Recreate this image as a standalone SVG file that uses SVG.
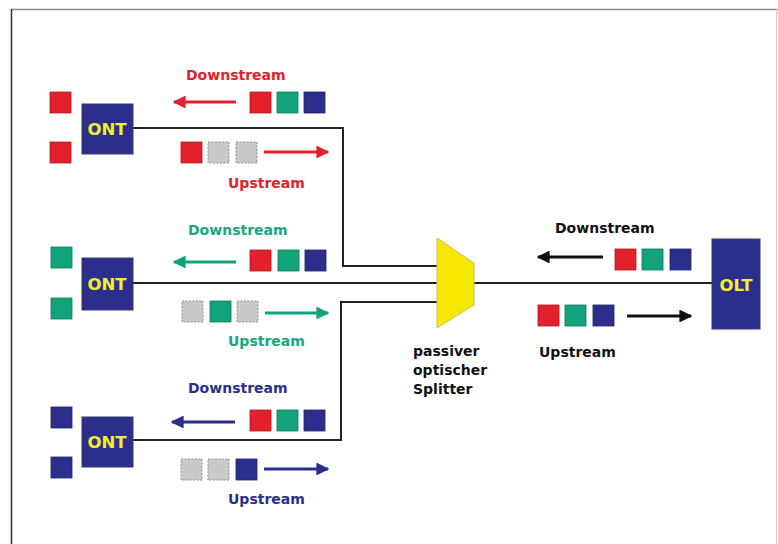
<svg xmlns="http://www.w3.org/2000/svg" width="778" height="544" viewBox="0 0 778 544">
<defs>
<style>
.t{font-family:"DejaVu Sans",Verdana,sans-serif;font-weight:bold;font-size:14px}
.lbl{font-family:"DejaVu Sans",Verdana,sans-serif;font-weight:bold;font-size:16.5px;fill:#f2ee2a;text-anchor:middle}
.box{fill:#2b2f8c;stroke:#3a3a66;stroke-width:1}
.r{fill:#e3212b;stroke:#b01a22;stroke-width:0.8}
.g{fill:#13a37c;stroke:#0e7c5e;stroke-width:0.8}
.b{fill:#2b2f8c;stroke:#1e2266;stroke-width:0.8}
.x{fill:#c9c9c9;stroke:#8f8f8f;stroke-width:1;stroke-dasharray:2 1.5}
.ln{fill:none;stroke:#222;stroke-width:2}
.ar{stroke-width:3;fill:none}
</style>
<marker id="hr" viewBox="0 0 10 10" refX="9" refY="5" markerWidth="4.3" markerHeight="4.3" orient="auto"><path d="M0,0L10,5L0,10z" fill="#e3212b"/></marker>
<marker id="hg" viewBox="0 0 10 10" refX="9" refY="5" markerWidth="4.3" markerHeight="4.3" orient="auto"><path d="M0,0L10,5L0,10z" fill="#13a37c"/></marker>
<marker id="hb" viewBox="0 0 10 10" refX="9" refY="5" markerWidth="4.3" markerHeight="4.3" orient="auto"><path d="M0,0L10,5L0,10z" fill="#2b2f8c"/></marker>
<marker id="hk" viewBox="0 0 10 10" refX="9" refY="5" markerWidth="4.3" markerHeight="4.3" orient="auto"><path d="M0,0L10,5L0,10z" fill="#111"/></marker>
</defs>
<rect x="0" y="0" width="778" height="544" fill="#fff"/>
<line x1="11" y1="9.5" x2="778" y2="9.5" stroke="#888" stroke-width="1.5"/>
<line x1="11.5" y1="9" x2="11.5" y2="544" stroke="#333" stroke-width="1.5"/>
<line x1="776.5" y1="9" x2="776.5" y2="544" stroke="#ccc" stroke-width="1"/>

<g id="connectors">
<path class="ln" d="M133,128H343V266H438"/>
<path class="ln" d="M133,283H438"/>
<path class="ln" d="M133,440H341V302H438"/>
<path class="ln" d="M473,283H713"/>
</g>

<g id="splitter">
<polygon points="437,238 474,263 474,305 437,328" fill="#f6e800" stroke="#c9c060" stroke-width="1"/>
<text class="t" x="413" y="356" fill="#111">passiver</text>
<text class="t" x="413" y="375" fill="#111">optischer</text>
<text class="t" x="413" y="394" fill="#111">Splitter</text>
</g>

<g id="olt">
<rect class="box" x="712" y="239" width="48" height="90"/>
<text class="lbl" x="736" y="291">OLT</text>
</g>

<g id="olt-traffic">
<text class="t" x="555" y="233" fill="#111">Downstream</text>
<line class="ar" x1="603" y1="257" x2="538" y2="257" stroke="#111" marker-end="url(#hk)"/>
<rect class="r" x="615" y="249" width="21" height="21"/>
<rect class="g" x="642" y="249" width="21" height="21"/>
<rect class="b" x="670" y="249" width="21" height="21"/>
<rect class="r" x="538" y="305" width="21" height="21"/>
<rect class="g" x="565" y="305" width="21" height="21"/>
<rect class="b" x="593" y="305" width="21" height="21"/>
<line class="ar" x1="627" y1="316" x2="691" y2="316" stroke="#111" marker-end="url(#hk)"/>
<text class="t" x="539" y="357" fill="#111">Upstream</text>
</g>

<g id="ont1">
<rect class="r" x="50" y="92" width="21" height="21"/>
<rect class="r" x="50" y="142" width="21" height="21"/>
<rect class="box" x="82" y="104" width="51" height="50"/>
<text class="lbl" x="107" y="135">ONT</text>
<text class="t" x="186" y="80" fill="#e3212b">Downstream</text>
<line class="ar" x1="236" y1="102" x2="174" y2="102" stroke="#e3212b" marker-end="url(#hr)"/>
<rect class="r" x="250" y="92" width="21" height="21"/>
<rect class="g" x="277" y="92" width="21" height="21"/>
<rect class="b" x="304" y="92" width="21" height="21"/>
<rect class="r" x="181" y="142" width="21" height="21"/>
<rect class="x" x="208" y="142" width="21" height="21"/>
<rect class="x" x="236" y="142" width="21" height="21"/>
<line class="ar" x1="264" y1="152" x2="328" y2="152" stroke="#e3212b" marker-end="url(#hr)"/>
<text class="t" x="228" y="188" fill="#e3212b">Upstream</text>
</g>

<g id="ont2">
<rect class="g" x="51" y="247" width="21" height="21"/>
<rect class="g" x="51" y="298" width="21" height="21"/>
<rect class="box" x="82" y="258" width="51" height="52"/>
<text class="lbl" x="107" y="290">ONT</text>
<text class="t" x="188" y="235" fill="#1aa682">Downstream</text>
<line class="ar" x1="236" y1="262" x2="174" y2="262" stroke="#13a37c" marker-end="url(#hg)"/>
<rect class="r" x="250" y="250" width="21" height="21"/>
<rect class="g" x="278" y="250" width="21" height="21"/>
<rect class="b" x="305" y="250" width="21" height="21"/>
<rect class="x" x="182" y="301" width="21" height="21"/>
<rect class="g" x="210" y="301" width="21" height="21"/>
<rect class="x" x="237" y="301" width="21" height="21"/>
<line class="ar" x1="265" y1="313" x2="328" y2="313" stroke="#13a37c" marker-end="url(#hg)"/>
<text class="t" x="228" y="346" fill="#1aa682">Upstream</text>
</g>

<g id="ont3">
<rect class="b" x="51" y="407" width="21" height="21"/>
<rect class="b" x="51" y="457" width="21" height="21"/>
<rect class="box" x="82" y="417" width="51" height="50"/>
<text class="lbl" x="107" y="448">ONT</text>
<text class="t" x="188" y="393" fill="#2b2f8c">Downstream</text>
<line class="ar" x1="235" y1="422" x2="172" y2="422" stroke="#2b2f8c" marker-end="url(#hb)"/>
<rect class="r" x="250" y="410" width="21" height="21"/>
<rect class="g" x="277" y="410" width="21" height="21"/>
<rect class="b" x="304" y="410" width="21" height="21"/>
<rect class="x" x="181" y="459" width="21" height="21"/>
<rect class="x" x="208" y="459" width="21" height="21"/>
<rect class="b" x="236" y="459" width="21" height="21"/>
<line class="ar" x1="264" y1="469" x2="328" y2="469" stroke="#2b2f8c" marker-end="url(#hb)"/>
<text class="t" x="228" y="504" fill="#2b2f8c">Upstream</text>
</g>
</svg>
